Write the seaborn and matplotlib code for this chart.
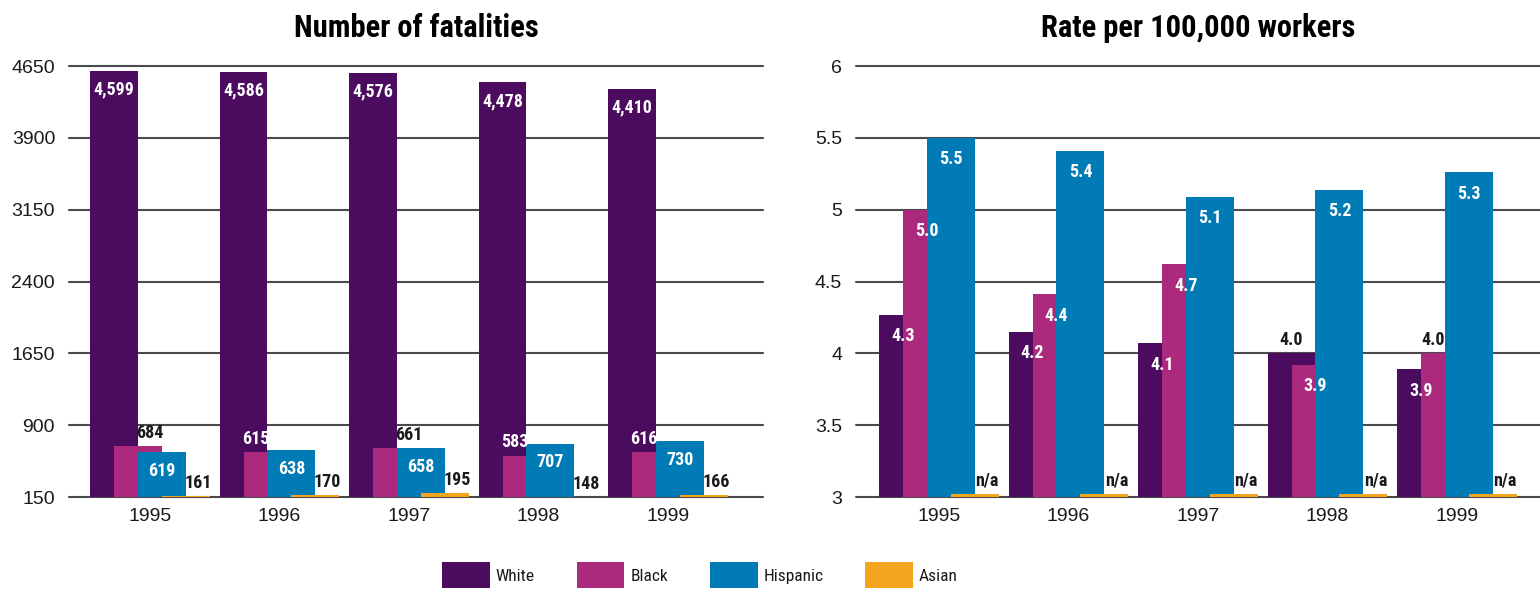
import numpy as np
import pandas as pd
import matplotlib.pyplot as plt
import seaborn as sns
from matplotlib import font_manager

years = ['1995', '1996', '1997', '1998', '1999']
groups = ['White', 'Black', 'Hispanic', 'Asian']
colors = ['#4b0b5f', '#ac2a7e', '#007bb6', '#f5a41e']

# number of fatalities
fatal_white = [4599, 4586, 4576, 4478, 4410]
fatal_black = [684, 615, 661, 583, 616]
fatal_hispanic = [619, 638, 658, 707, 730]
fatal_asian = [161, 170, 195, 148, 166]

# rate per 100,000 workers (bar heights, labels as printed)
rate_white = [4.27, 4.15, 4.07, 4.0, 3.89]
rate_black = [5.0, 4.41, 4.62, 3.92, 4.0]
rate_hispanic = [5.5, 5.41, 5.09, 5.14, 5.26]
rate_asian = [3.02, 3.02, 3.02, 3.02, 3.02]  # n/a -> only a stub on the baseline
rate_white_lbl = ['4.3', '4.2', '4.1', '4.0', '3.9']
rate_black_lbl = ['5.0', '4.4', '4.7', '3.9', '4.0']
rate_hispanic_lbl = ['5.5', '5.4', '5.1', '5.2', '5.3']
rate_asian_lbl = ['n/a', 'n/a', 'n/a', 'n/a', 'n/a']

# where each value label sits
fatal_place = [['in'] * 5,
               ['above_r', 'above_l', 'above_r', 'above_l', 'above_l'],
               ['in'] * 5,
               ['above_r'] * 5]
rate_place = [['in', 'in', 'in', 'above', 'in'],
              ['in', 'in', 'in', 'in', 'above_l'],
              ['in'] * 5,
              ['above_r'] * 5]

dark = '#1a1a1a'
grid_c = '#4a4a4a'

# pick a condensed face if there is one
fonts = font_manager.fontManager.ttflist
names = {f.name for f in fonts}
cond = dict(family=['Liberation Sans', 'DejaVu Sans'])
for nm in ['Liberation Sans Narrow', 'Roboto Condensed', 'Open Sans Condensed']:
    if nm in names:
        cond = dict(family=[nm, 'DejaVu Sans'])
        break
else:
    if any(f.name == 'DejaVu Sans' and f.stretch in ('condensed', 'semi-condensed') for f in fonts):
        cond = dict(family=['DejaVu Sans'], fontstretch='condensed')

sns.set_style('white')
plt.rcParams['font.family'] = ['Liberation Sans', 'DejaVu Sans']
plt.rcParams['text.color'] = dark


def long_table(series):
    rows = []
    for g, vals in zip(groups, series):
        for y, v in zip(years, vals):
            rows.append({'year': y, 'group': g, 'value': v})
    return pd.DataFrame(rows)


def draw_panel(ax, series, labels, place, title, ylim, yticks, yticklabels, xlim, in_off):
    df = long_table(series)
    sns.barplot(data=df, x='year', y='value', hue='group', hue_order=groups,
                palette=colors, saturation=1, width=0.74, errorbar=None,
                legend=False, linewidth=0, ax=ax)
    bw = 0.37
    for gi, cont in enumerate(ax.containers):
        for xi, bar in enumerate(cont):
            c = bar.get_x() + bar.get_width() / 2
            bar.set_x(c - bw / 2)
            bar.set_width(bw)
            bar.set_linewidth(0)
            v = series[gi][xi]
            mode = place[gi][xi]
            dx = 0
            if mode == 'above_r':
                dx = bw / 4
            elif mode == 'above_l':
                dx = -bw / 4
            if mode == 'in':
                col, off, va = 'white', -in_off, 'top'
            else:
                col, off, va = dark, 3, 'bottom'
                if mode == 'above_l' and gi > 0 and series[gi - 1][xi] > v:
                    col = 'white'
            ax.annotate(labels[gi][xi], xy=(c + dx, v), xytext=(0, off),
                        textcoords='offset points', ha='center', va=va,
                        color=col, fontsize=13, fontweight='bold',
                        annotation_clip=False, **cond)
    ax.set_ylim(*ylim)
    ax.set_xlim(*xlim)
    ax.set_yticks(yticks)
    ax.set_yticklabels(yticklabels)
    ax.set_xlabel('')
    ax.set_ylabel('')
    ax.set_title(title, fontsize=22, fontweight='heavy', color='black', pad=21, **cond)
    ax.tick_params(axis='both', length=0, labelsize=14, colors=dark)
    ax.tick_params(axis='y', pad=10)
    ax.tick_params(axis='x', pad=8)
    ax.set_axisbelow(True)
    ax.yaxis.grid(True, color=grid_c, linewidth=1.5)
    for ln in ax.get_ygridlines():
        ln.set_clip_on(False)
    sns.despine(ax=ax, left=True, bottom=True)


fig = plt.figure(figsize=(15.4, 5.9), dpi=100)
ax1 = fig.add_axes([0.0448, 0.1576, 0.4506, 0.7305])
ax2 = fig.add_axes([0.5558, 0.1576, 0.4442, 0.7305])

fatal = [fatal_white, fatal_black, fatal_hispanic, fatal_asian]
fatal_lbl = [[f'{v:,}' for v in s] for s in fatal]
draw_panel(ax1, fatal, fatal_lbl, fatal_place, 'Number of fatalities',
           (150, 4650), [150, 900, 1650, 2400, 3150, 3900, 4650],
           ['150', '900', '1650', '2400', '3150', '3900', '4650'],
           (-0.6255, 4.7336), 7)

rate = [rate_white, rate_black, rate_hispanic, rate_asian]
rate_lbl = [rate_white_lbl, rate_black_lbl, rate_hispanic_lbl, rate_asian_lbl]
draw_panel(ax2, rate, rate_lbl, rate_place, 'Rate per 100,000 workers',
           (3, 6), [3, 3.5, 4, 4.5, 5, 5.5, 6],
           ['3', '3.5', '4', '4.5', '5', '5.5', '6'],
           (-0.641, 4.641), 9)

handles = [plt.Rectangle((0, 0), 1, 1, color=c, linewidth=0) for c in colors]
leg_prop = {'size': 12.5}
leg_prop.update({k: v for k, v in cond.items() if k == 'family'})
if 'fontstretch' in cond:
    leg_prop['stretch'] = cond['fontstretch']
fig.legend(handles, groups, loc='center', bbox_to_anchor=(0.4545, 0.0254),
           ncol=4, frameon=False, handlelength=2.75, handleheight=2.0,
           handletextpad=0.35, columnspacing=2.4, borderpad=0,
           prop=leg_prop)

plt.savefig('out.png', dpi=100)
